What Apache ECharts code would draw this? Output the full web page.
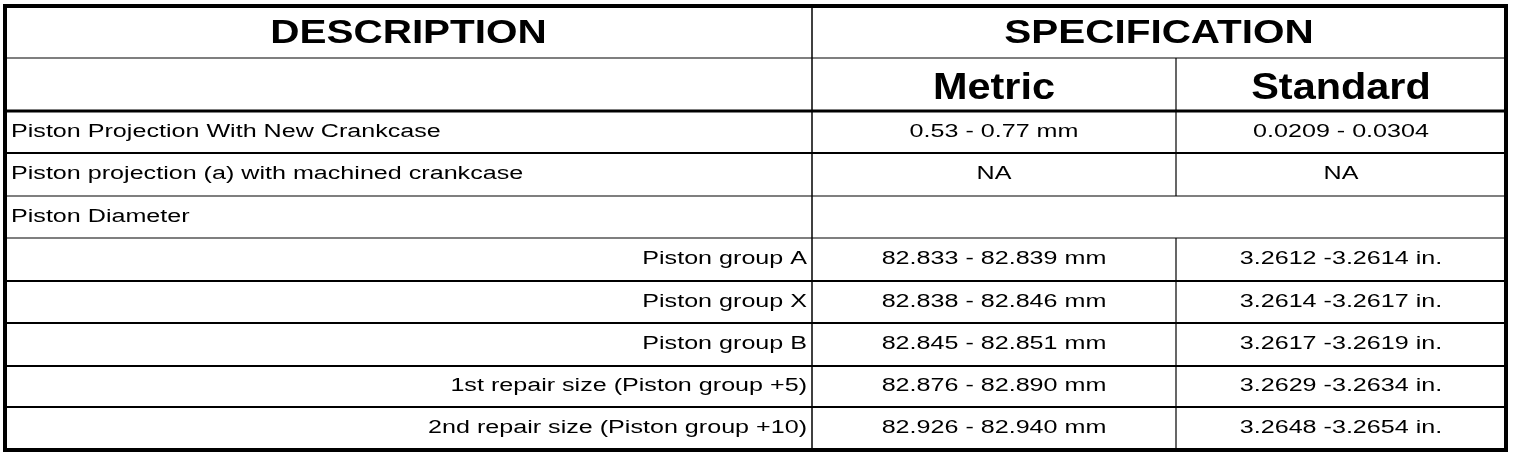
<!DOCTYPE html>
<html>
<head>
<meta charset="utf-8">
<script src="https://cdn.jsdelivr.net/npm/echarts@6/dist/echarts.min.js"></script>
<style>
  html, body { margin: 0; padding: 0; background: #fff; }
  #main { width: 1520px; height: 458px; }
</style>
</head>
<body>
<div id="main"></div>
<script>
// table content
const headers = ['DESCRIPTION', 'SPECIFICATION']
const subHeaders = ['Metric', 'Standard']
const descriptions = [
  'Piston Projection With New Crankcase',
  'Piston projection (a) with machined crankcase',
  'Piston Diameter',
  'Piston group A',
  'Piston group X',
  'Piston group B',
  '1st repair size (Piston group +5)',
  '2nd repair size (Piston group +10)'
]
// 0 = main item (left), 1 = sub item (right aligned)
const descLevel = [0, 0, 0, 1, 1, 1, 1, 1]
const metricValues = [
  '0.53 - 0.77 mm',
  'NA',
  null,
  '82.833 - 82.839 mm',
  '82.838 - 82.846 mm',
  '82.845 - 82.851 mm',
  '82.876 - 82.890 mm',
  '82.926 - 82.940 mm'
]
const standardValues = [
  '0.0209 - 0.0304',
  'NA',
  null,
  '3.2612 -3.2614 in.',
  '3.2614 -3.2617 in.',
  '3.2617 -3.2619 in.',
  '3.2629 -3.2634 in.',
  '3.2648 -3.2654 in.'
]

// layout of the grid (axis units)
const colEdges = [0, 807, 1171, 1501]
const rowEdges = [0, 52, 105, 147, 190, 232, 275, 317, 360, 401, 444]

const FONT = '"Liberation Sans", Arial, Helvetica, sans-serif'
const textKinds = {
  head: { size: 34, weight: 'bold', sx: 1.19, dy: 2 },
  sub: { size: 37, weight: 'bold', sx: 1.12, dy: 4 },
  body: { size: 18, weight: 'normal', sx: 1.395, dy: 0 }
}

// build cells
let cells = []
cells.push({ c0: 0, c1: 1, r: 0, text: headers[0], align: 'center', kind: 'head' })
cells.push({ c0: 1, c1: 3, r: 0, text: headers[1], align: 'center', kind: 'head' })
cells.push({ c0: 1, c1: 2, r: 1, text: subHeaders[0], align: 'center', kind: 'sub' })
cells.push({ c0: 2, c1: 3, r: 1, text: subHeaders[1], align: 'center', kind: 'sub' })
for (let i = 0; i < descriptions.length; i++) {
  let r = i + 2
  cells.push({ c0: 0, c1: 1, r: r, text: descriptions[i], align: descLevel[i] ? 'right' : 'left', kind: 'body' })
  if (metricValues[i]) cells.push({ c0: 1, c1: 2, r: r, text: metricValues[i], align: 'center', kind: 'body' })
  if (standardValues[i]) cells.push({ c0: 2, c1: 3, r: r, text: standardValues[i], align: 'center', kind: 'body' })
}

// rules: [edge index, from, to, width]
const hRules = [
  [1, 0, 3, 1.2],
  [2, 0, 3, 3],
  [3, 0, 3, 2],
  [4, 0, 3, 1.2],
  [5, 0, 3, 1.2],
  [6, 0, 3, 2],
  [7, 0, 3, 2],
  [8, 0, 3, 2],
  [9, 0, 3, 2]
]
const vRules = [
  [1, 0, 10, 1.5],
  [2, 1, 4, 1.2],
  [2, 5, 10, 1.2]
]
let rules = []
hRules.forEach(function (h) {
  rules.push({ x0: colEdges[h[1]], x1: colEdges[h[2]], y0: rowEdges[h[0]], y1: rowEdges[h[0]], w: h[3] })
})
vRules.forEach(function (v) {
  rules.push({ x0: colEdges[v[0]], x1: colEdges[v[0]], y0: rowEdges[v[1]], y1: rowEdges[v[2]], w: v[3] })
})

function renderRule(params, api) {
  let d = rules[params.dataIndex]
  let a = api.coord([d.x0, d.y0])
  let b = api.coord([d.x1, d.y1])
  return {
    type: 'line',
    shape: { x1: a[0], y1: a[1], x2: b[0], y2: b[1] },
    style: { stroke: '#000', lineWidth: d.w }
  }
}

function renderBorder(params, api) {
  let a = api.coord([colEdges[0], rowEdges[0]])
  let b = api.coord([colEdges[colEdges.length - 1], rowEdges[rowEdges.length - 1]])
  return {
    type: 'rect',
    shape: { x: a[0], y: a[1], width: b[0] - a[0], height: b[1] - a[1] },
    style: { fill: null, stroke: '#000', lineWidth: 4 }
  }
}

function renderCell(params, api) {
  let d = cells[params.dataIndex]
  let k = textKinds[d.kind]
  let a = api.coord([colEdges[d.c0], rowEdges[d.r]])
  let b = api.coord([colEdges[d.c1], rowEdges[d.r + 1]])
  let x = (a[0] + b[0]) / 2
  if (d.align === 'left') x = a[0] + 6
  if (d.align === 'right') x = b[0] - 5
  return {
    type: 'text',
    x: x,
    y: (a[1] + b[1]) / 2 + k.dy,
    scaleX: k.sx,
    style: {
      text: d.text,
      x: 0,
      y: 0,
      align: d.align,
      verticalAlign: 'middle',
      fontSize: k.size,
      fontWeight: k.weight,
      fontFamily: FONT,
      fill: '#000'
    }
  }
}

let chart = echarts.init(document.getElementById('main'), null, { renderer: 'canvas' })
chart.setOption({
  animation: false,
  backgroundColor: '#fff',
  grid: { left: 5, top: 6, width: 1501, height: 444 },
  xAxis: { type: 'value', min: 0, max: 1501, show: false },
  yAxis: { type: 'value', min: 0, max: 444, inverse: true, show: false },
  series: [
    {
      type: 'custom',
      renderItem: renderRule,
      data: rules.map(function (r, i) { return [r.x0, r.y0] }),
      silent: true
    },
    {
      type: 'custom',
      renderItem: renderBorder,
      data: [[0, 0]],
      silent: true
    },
    {
      type: 'custom',
      renderItem: renderCell,
      data: cells.map(function (c) { return [colEdges[c.c0], rowEdges[c.r]] }),
      silent: true
    }
  ]
})
</script>
</body>
</html>
